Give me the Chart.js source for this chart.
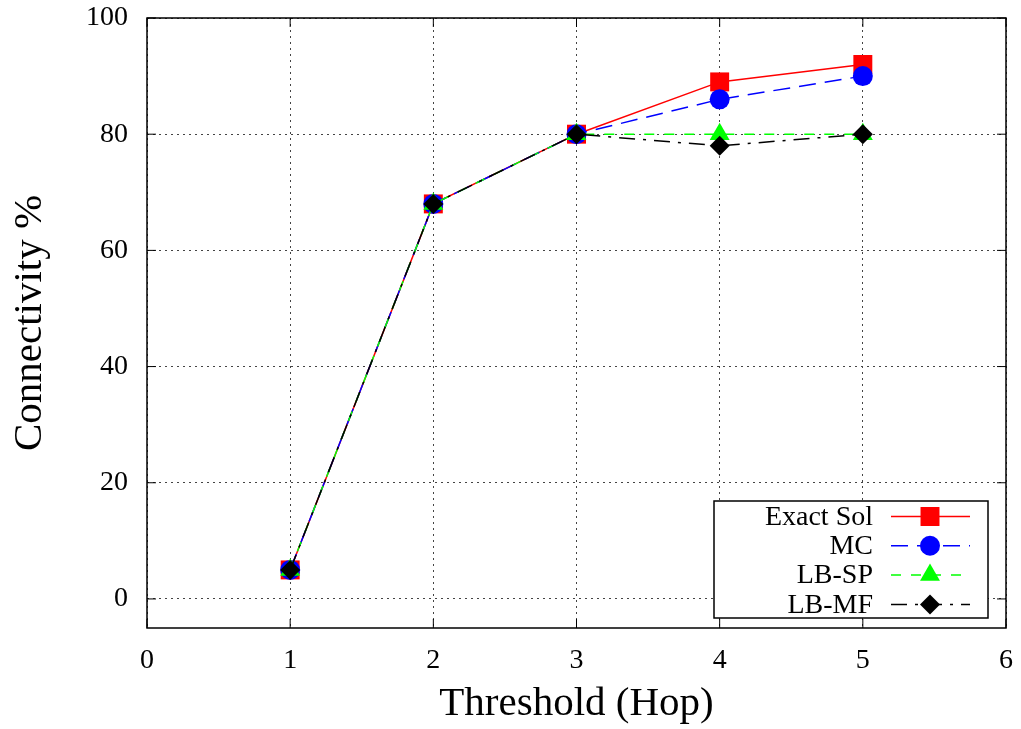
<!DOCTYPE html>
<html>
<head>
<meta charset="utf-8">
<title>Connectivity vs Threshold</title>
<script src="https://cdn.jsdelivr.net/npm/chart.js@4.4.0/dist/chart.umd.min.js"></script>
<style>
  html, body { margin: 0; padding: 0; background: #ffffff; }
  #wrap { width: 1021px; height: 729px; }
</style>
</head>
<body>
<div id="wrap"><canvas id="chart" width="1021" height="729"></canvas></div>
<script>
// Values
const thresholds = [1, 2, 3, 4, 5];
const exactSol = [5, 68, 80, 89, 92];
const mcValues = [5, 68, 80, 86, 90];
const lbSpValues = [5, 68, 80, 80, 80];
const lbMfValues = [5, 68, 80, 78, 80];

const xTicks = [0, 1, 2, 3, 4, 5, 6];
const yTicks = [0, 20, 40, 60, 80, 100];

const FONT = '"Liberation Serif", "DejaVu Serif", serif';

const toPoints = (values) => thresholds.map((x, i) => ({ x: x, y: values[i] }));

// series styling (also used by the legend plugin)
const seriesDefs = [
    { label: 'Exact Sol', data: exactSol, color: '#ff0000', dash: [], style: 'rect', radius: 13.4, order: 4 },
    { label: 'MC', data: mcValues, color: '#0000ff', dash: [17, 9], style: 'circle', radius: 10, order: 3 },
    { label: 'LB-SP', data: lbSpValues, color: '#00ff00', dash: [10, 10], style: 'triangle', radius: 11.5, order: 2 },
    { label: 'LB-MF', data: lbMfValues, color: '#000000', dash: [16, 8, 3, 8], style: 'rectRot', radius: 10, order: 1 }
];

// draw a marker shape at (x, y), used for the legend samples
const drawMarker = (ctx, style, x, y, r, color) => {
    ctx.save();
    ctx.fillStyle = color;
    ctx.beginPath();
    if (style === 'rect') {
        const s = Math.SQRT1_2 * r;
        ctx.rect(x - s, y - s, 2 * s, 2 * s);
    } else if (style === 'circle') {
        ctx.arc(x, y, r, 0, Math.PI * 2);
    } else if (style === 'triangle') {
        for (let k = 0; k < 3; k++) {
            const a = k * 2 * Math.PI / 3;
            const px = x + Math.sin(a) * r;
            const py = y - Math.cos(a) * r;
            if (k === 0) ctx.moveTo(px, py); else ctx.lineTo(px, py);
        }
        ctx.closePath();
    } else {
        ctx.moveTo(x - r, y);
        ctx.lineTo(x, y - r);
        ctx.lineTo(x + r, y);
        ctx.lineTo(x, y + r);
        ctx.closePath();
    }
    ctx.fill();
    ctx.restore();
};

// frame with inward tick marks, gnuplot style
const framePlugin = {
    id: 'frame',
    afterDraw(chart) {
        const { ctx, chartArea: a, scales } = chart;
        const tl = 9;
        ctx.save();
        ctx.strokeStyle = '#000000';
        ctx.lineWidth = 1;
        ctx.beginPath();
        xTicks.forEach(v => {
            const px = scales.x.getPixelForValue(v);
            ctx.moveTo(px, a.bottom); ctx.lineTo(px, a.bottom - tl);
            ctx.moveTo(px, a.top); ctx.lineTo(px, a.top + tl);
        });
        yTicks.forEach(v => {
            const py = scales.y.getPixelForValue(v);
            ctx.moveTo(a.left, py); ctx.lineTo(a.left + tl, py);
            ctx.moveTo(a.right, py); ctx.lineTo(a.right - tl, py);
        });
        ctx.stroke();
        ctx.lineWidth = 1.5;
        ctx.strokeRect(a.left, a.top, a.right - a.left, a.bottom - a.top);
        ctx.restore();
    }
};

// boxed legend in the lower right corner, text right-aligned, sample on the right
const legendPlugin = {
    id: 'gpLegend',
    afterDatasetsDraw(chart) {
        const { ctx, chartArea: a } = chart;
        const boxRight = a.right - 18;
        const boxBottom = a.bottom - 10;
        const boxW = 274;
        const boxH = 117;
        const boxLeft = boxRight - boxW;
        const boxTop = boxBottom - boxH;
        ctx.save();
        ctx.fillStyle = '#ffffff';
        ctx.fillRect(boxLeft, boxTop, boxW, boxH);
        ctx.strokeStyle = '#000000';
        ctx.lineWidth = 1.5;
        ctx.strokeRect(boxLeft, boxTop, boxW, boxH);

        const rowH = 29.3;
        const firstRow = boxTop + 15.5;
        const textRight = boxLeft + 159;
        const lineStart = boxLeft + 177;
        const lineEnd = boxLeft + 256;
        const markX = boxLeft + 216;
        ctx.font = '28px ' + FONT;
        ctx.textAlign = 'right';
        ctx.textBaseline = 'middle';
        seriesDefs.forEach((s, i) => {
            const y = firstRow + i * rowH;
            ctx.fillStyle = '#000000';
            ctx.fillText(s.label, textRight, y + 1);
            ctx.strokeStyle = s.color;
            ctx.lineWidth = 1.5;
            ctx.setLineDash(s.dash);
            ctx.beginPath();
            ctx.moveTo(lineStart, y);
            ctx.lineTo(lineEnd, y);
            ctx.stroke();
            ctx.setLineDash([]);
            drawMarker(ctx, s.style, markX, y, s.radius, s.color);
        });
        ctx.restore();
    }
};

const datasets = seriesDefs.map(s => ({
    label: s.label,
    data: toPoints(s.data),
    borderColor: s.color,
    backgroundColor: s.color,
    borderWidth: 1.5,
    borderDash: s.dash,
    pointStyle: s.style,
    pointRadius: s.radius,
    pointBorderWidth: 0,
    pointBackgroundColor: s.color,
    pointBorderColor: s.color,
    tension: 0,
    fill: false,
    order: s.order
}));

const gridOpts = {
    color: '#444444',
    lineWidth: 1,
    drawTicks: false
};

// fixed axis sizes, no label overhang padding
const fixAxis = (size) => (axis) => {
    if (axis.isHorizontal()) axis.height = size; else axis.width = size;
    axis.paddingTop = 0;
    axis.paddingBottom = 0;
    axis.paddingLeft = 0;
    axis.paddingRight = 0;
};

new Chart(document.getElementById('chart').getContext('2d'), {
    type: 'line',
    data: { datasets: datasets },
    options: {
        responsive: false,
        animation: false,
        layout: { padding: { top: 18, right: 15, left: 0, bottom: 0 } },
        plugins: {
            legend: { display: false },
            tooltip: { enabled: false }
        },
        scales: {
            x: {
                type: 'linear',
                min: 0,
                max: 6,
                afterBuildTicks: axis => { axis.ticks = xTicks.map(v => ({ value: v })); },
                afterFit: fixAxis(101),
                grid: gridOpts,
                border: { display: false, dash: [2, 4] },
                ticks: {
                    color: '#000000',
                    padding: 16,
                    maxRotation: 0,
                    font: { family: FONT, size: 28 }
                },
                title: {
                    display: true,
                    text: 'Threshold (Hop)',
                    color: '#000000',
                    font: { family: FONT, size: 41, lineHeight: 1.2 },
                    padding: { top: 0, bottom: 0 }
                }
            },
            y: {
                type: 'linear',
                min: -5,
                max: 100,
                afterBuildTicks: axis => { axis.ticks = yTicks.map(v => ({ value: v })); },
                afterFit: fixAxis(147),
                grid: gridOpts,
                border: { display: false, dash: [2, 4] },
                ticks: {
                    color: '#000000',
                    padding: 19,
                    font: { family: FONT, size: 28 }
                },
                title: {
                    display: true,
                    text: 'Connectivity %',
                    color: '#000000',
                    font: { family: FONT, size: 41, lineHeight: 1.2 },
                    padding: { top: 6, bottom: 0 }
                }
            }
        }
    },
    plugins: [legendPlugin, framePlugin]
});
</script>
</body>
</html>
